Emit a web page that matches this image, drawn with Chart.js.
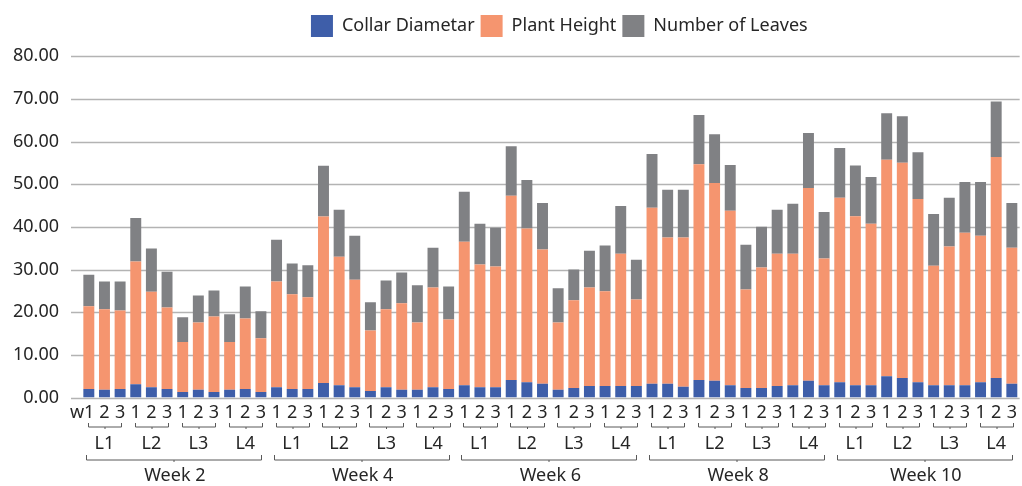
<!DOCTYPE html>
<html>
<head>
<meta charset="utf-8">
<script src="https://cdn.jsdelivr.net/npm/chart.js@4.4.1/dist/chart.umd.min.js"></script>
<style>
    html, body { margin: 0; padding: 0; background: #fff; }
    #wrap { width: 1022px; height: 486px; }
</style>
</head>
<body>
<div id="wrap"><canvas id="myChart" width="1022" height="486"></canvas></div>
<script>
var weeks = ['Week 2', 'Week 4', 'Week 6', 'Week 8', 'Week 10'];
var levels = ['L1', 'L2', 'L3', 'L4'];
var reps = ['1', '2', '3'];
var yTicks = [0, 10, 20, 30, 40, 50, 60, 70, 80];

// one value per bar, week by week, L1..L4, rep 1..3
var collarDiameter = [
    2.0, 1.8, 2.0, 3.1, 2.4, 2.0, 1.3, 1.8, 1.3, 1.8, 2.0, 1.3,
    2.4, 2.0, 2.0, 3.4, 2.9, 2.4, 1.5, 2.4, 1.8, 1.8, 2.4, 2.0,
    2.9, 2.4, 2.4, 4.1, 3.6, 3.2, 1.8, 2.2, 2.7, 2.7, 2.7, 2.7,
    3.2, 3.2, 2.5, 4.1, 3.9, 2.9, 2.2, 2.2, 2.7, 2.9, 3.9, 2.9,
    3.6, 2.9, 2.9, 5.0, 4.6, 3.6, 2.9, 2.9, 2.9, 3.6, 4.6, 3.2
];
var plantHeight = [
    19.4, 18.9, 18.4, 28.8, 22.4, 19.1, 11.7, 15.8, 17.7, 11.2, 16.5, 12.6,
    24.8, 22.2, 21.5, 39.0, 30.1, 25.2, 14.2, 18.3, 20.3, 15.8, 23.4, 16.3,
    33.6, 28.8, 28.3, 43.2, 36.0, 31.5, 15.8, 20.6, 23.1, 22.2, 31.0, 20.3,
    41.3, 34.3, 35.0, 50.6, 46.4, 40.9, 23.1, 28.3, 31.0, 30.8, 45.2, 29.7,
    43.2, 39.6, 37.8, 50.7, 50.4, 42.9, 28.0, 32.5, 35.7, 34.3, 51.8, 31.9
];
var numberOfLeaves = [
    7.4, 6.5, 6.8, 10.2, 10.1, 8.4, 5.8, 6.3, 6.1, 6.5, 7.5, 6.3,
    9.8, 7.2, 7.5, 11.9, 11.0, 10.3, 6.6, 6.7, 7.2, 8.7, 9.3, 7.7,
    11.7, 9.5, 9.1, 11.6, 11.4, 10.9, 8.0, 7.2, 8.6, 10.7, 11.2, 9.3,
    12.6, 11.2, 11.2, 11.5, 11.4, 10.7, 10.5, 9.5, 10.3, 11.7, 12.9, 10.9,
    11.7, 11.9, 11.0, 10.9, 10.9, 11.0, 12.1, 11.4, 11.9, 12.6, 13.0, 10.5
];

var labels = [];
weeks.forEach(function (w) {
    levels.forEach(function (l) {
        reps.forEach(function (r) {
            labels.push(r);
        });
    });
});
// first tick reads "w1" in the original, sitting a bit to the left
labels[0] = 'w1\u2007\u2009';

var FONT = '"Noto Sans", sans-serif';
var TEXT = '#262626';

// extends the horizontal gridlines left of the plot, like the original
var gridPlugin = {
    id: 'grid',
    afterLayout: function (chart) {
        // legend sits a little right of centre in the original
        chart.legend.left += 9;
        chart.legend.right += 9;
    },
    beforeDatasetsDraw: function (chart) {
        var ctx = chart.ctx;
        var y = chart.scales.y;
        ctx.save();
        ctx.strokeStyle = '#b3b3b3';
        ctx.lineWidth = 1.5;
        yTicks.forEach(function (v) {
            var py = Math.round(y.getPixelForValue(v)) + 0.5;
            ctx.beginPath();
            ctx.moveTo(71, py);
            ctx.lineTo(chart.chartArea.right, py);
            ctx.stroke();
        });
        ctx.restore();
    }
};

function bracket(ctx, x1, x2, y, h) {
    ctx.beginPath();
    ctx.moveTo(x1, y - h);
    ctx.lineTo(x1, y);
    ctx.lineTo(x2, y);
    ctx.lineTo(x2, y - h);
    ctx.moveTo((x1 + x2) / 2, y);
    ctx.lineTo((x1 + x2) / 2, y + 2);
    ctx.stroke();
}

// level and week labels with their brackets under the rep ticks
var groupPlugin = {
    id: 'groups',
    afterDraw: function (chart) {
        var ctx = chart.ctx;
        var x = chart.scales.x;
        var base = x.top;
        ctx.save();
        ctx.strokeStyle = '#595959';
        ctx.lineWidth = 1;
        ctx.fillStyle = TEXT;
        ctx.font = '18px ' + FONT;
        ctx.textAlign = 'center';
        ctx.textBaseline = 'middle';
        var perWeek = levels.length * reps.length;
        weeks.forEach(function (w, wi) {
            levels.forEach(function (l, li) {
                var i0 = wi * perWeek + li * reps.length;
                var a = x.getPixelForValue(i0);
                var b = x.getPixelForValue(i0 + reps.length - 1);
                bracket(ctx, Math.round(a - 1) + 0.5, Math.round(b + 1) + 0.5, base + 29.5, 4);
                ctx.fillText(l, (a + b) / 2, base + 46);
            });
            var s = x.getPixelForValue(wi * perWeek);
            var e = x.getPixelForValue(wi * perWeek + perWeek - 1);
            bracket(ctx, Math.round(s - 3) + 0.5, Math.round(e) + 0.5, base + 62.5, 5);
            ctx.fillText(w, (s + e) / 2, base + 78);
        });
        ctx.restore();
    }
};

var ctx = document.getElementById('myChart');
var myChart = new Chart(ctx, {
    type: 'bar',
    data: {
        labels: labels,
        datasets: [{
            label: 'Collar Diametar',
            data: collarDiameter,
            backgroundColor: '#3e5ea9'
        }, {
            label: 'Plant Height',
            data: plantHeight,
            backgroundColor: '#f5956f'
        }, {
            label: 'Number of Leaves',
            data: numberOfLeaves,
            backgroundColor: '#808184'
        }]
    },
    options: {
        responsive: false,
        animation: false,
        layout: {
            padding: { top: 9, right: 0, bottom: 0, left: 0 }
        },
        datasets: {
            bar: {
                categoryPercentage: 1,
                barPercentage: 0.7
            }
        },
        plugins: {
            legend: {
                position: 'top',
                fullSize: false,
                labels: {
                    boxWidth: 22,
                    boxHeight: 22,
                    padding: 6,
                    color: TEXT,
                    font: { family: FONT, size: 18 }
                }
            },
            // empty title used as a spacer between legend and plot
            title: {
                display: true,
                text: '',
                weight: 500,
                font: { size: 1 },
                padding: { top: 0, bottom: 8 }
            },
            tooltip: { enabled: false }
        },
        scales: {
            x: {
                stacked: true,
                grid: { display: false, drawTicks: false },
                border: { display: false },
                ticks: {
                    autoSkip: false,
                    maxRotation: 0,
                    minRotation: 0,
                    padding: 5,
                    color: TEXT,
                    font: { family: FONT, size: 18 }
                },
                afterFit: function (scale) {
                    scale.height = 88.5;
                }
            },
            y: {
                stacked: true,
                min: 0,
                max: 80,
                grid: { display: false, drawTicks: false },
                border: { display: false },
                ticks: {
                    stepSize: 10,
                    padding: 22,
                    color: TEXT,
                    font: { family: FONT, size: 18 },
                    callback: function (val) {
                        return val.toFixed(2);
                    }
                },
                afterFit: function (scale) {
                    scale.width = 81;
                }
            }
        }
    },
    plugins: [gridPlugin, groupPlugin]
});
</script>
</body>
</html>
